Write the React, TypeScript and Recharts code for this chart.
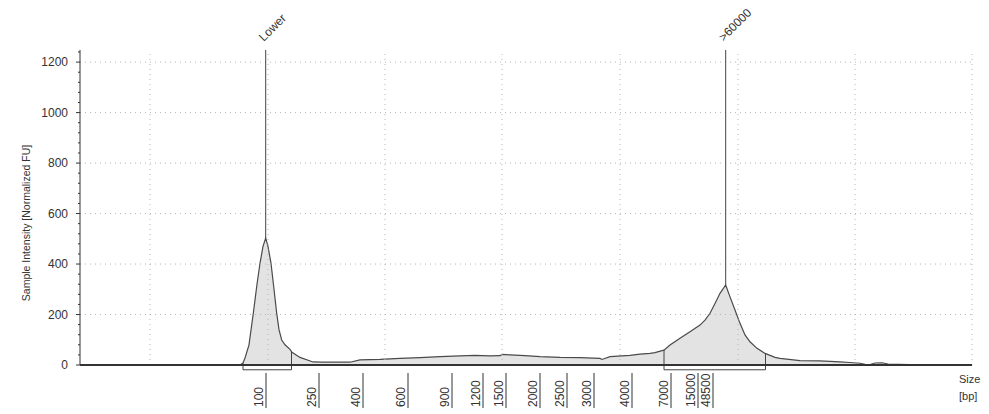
import { Area, ComposedChart, ReferenceDot, ReferenceLine, XAxis, YAxis } from "recharts"

// migration position (px from the left of the plot) and normalized FU
const tracePos = [
  0, 160, 163, 165, 169, 173.3, 177, 180, 183, 185.7, 188, 191, 194, 196.7, 199, 201.7, 205, 210, 212, 220, 233, 243,
  270, 280, 300, 320, 340, 360, 380, 395, 410, 420, 422, 430, 445, 460, 480, 500, 520, 522, 530, 550, 560, 570, 575,
  582, 584, 590, 600, 610, 620, 625, 630, 635, 640, 645.7, 650, 655, 660, 665, 670, 677, 685, 695, 700, 720, 740, 760,
  770, 780, 785, 790, 795, 802, 808, 830, 835, 892,
]
const traceFu = [
  0, 0, 8, 28, 80, 205, 320, 403, 470, 503, 470, 403, 300, 205, 140, 99, 80, 62, 50, 30, 12, 11,
  11, 20, 22, 26, 29, 33, 36, 38, 36, 37, 42, 40, 37, 33, 30, 29, 26, 22, 33, 38, 43, 46, 49,
  57, 59, 79, 106, 132, 158, 178, 205, 244, 284, 317, 270, 218, 165, 119, 92, 66, 46, 30, 26, 17, 16, 12,
  10, 7, 3, 2, 8, 9, 4, 2, 0, 0,
]

const sizeLabels = ["100", "250", "400", "600", "900", "1200", "1500", "2000", "2500", "3000", "4000", "7000", "15000", "48500"]
const sizePos = [186, 239, 283, 328, 372, 403, 426, 460, 487, 514, 552, 591, 618, 633]

const yMajor = [0, 200, 400, 600, 800, 1000, 1200]
const yMinor = [
  0, 40, 80, 120, 160, 200, 240, 280, 320, 360, 400, 440, 480, 520, 560, 600, 640, 680, 720, 760, 800, 840, 880, 920,
  960, 1000, 1040, 1080, 1120, 1160, 1200, 1240,
]
const gridX = [70, 188, 305, 422, 540, 658, 775, 892]
const gridY = [200, 400, 600, 800, 1000, 1200]

const peakNames = ["Lower", ">60000"]
const peakPos = [185.7, 645.7]
const peakFu = [503, 317]

const regionStart = [163, 584]
const regionEnd = [211.5, 685.5]

const Y_MAX = 1248
const BRACKET_LOW = -19
const FONT = "'Liberation Sans', Arial, sans-serif"

const data = tracePos.map((p, i) => ({ pos: p, fu: traceFu[i] }))

function fuAt(p: number) {
  for (let i = 1; i < tracePos.length; i++) {
    if (p <= tracePos[i]) {
      const t = (p - tracePos[i - 1]) / (tracePos[i] - tracePos[i - 1])
      return traceFu[i - 1] + t * (traceFu[i] - traceFu[i - 1])
    }
  }
  return 0
}

function SizeTick(props: any) {
  const { x, y, payload } = props
  const idx = sizePos.indexOf(payload.value)
  return (
    <g>
      <line x1={x} x2={x} y1={y + 8} y2={y + 43} stroke="#333" />
      <text
        x={x - 3}
        y={y + 42}
        transform={`rotate(-90 ${x - 3} ${y + 42})`}
        textAnchor="start"
        fontSize={12}
        fontFamily={FONT}
        fill="#333"
      >
        {sizeLabels[idx]}
      </text>
    </g>
  )
}

function FuTick(props: any) {
  const { x, y, payload } = props
  const major = yMajor.includes(payload.value)
  return (
    <g>
      <line x1={x - (major ? 4 : 2)} x2={x} y1={y} y2={y} stroke="#333" />
      {major && (
        <text x={x - 12} y={y + 4} textAnchor="end" fontSize={12} fontFamily={FONT} fill="#333">
          {payload.value}
        </text>
      )}
    </g>
  )
}

export default function App() {
  return (
    <div style={{ position: "absolute", left: 0, top: 0, background: "#fff" }}>
      <ComposedChart width={989} height={414} data={data} margin={{ top: 50, right: 17, bottom: 0, left: 0 }}>
        <XAxis
          dataKey="pos"
          type="number"
          domain={[0, 892]}
          ticks={sizePos}
          interval={0}
          height={49}
          tickSize={0}
          tickMargin={0}
          tick={<SizeTick />}
          axisLine={{ stroke: "#333", strokeWidth: 2 }}
          label={{
            content: (p: any) => {
              const vb = p.viewBox
              const tx = vb.x + vb.width - 13
              return (
                <text fontSize={11} fontFamily={FONT} fill="#333">
                  <tspan x={tx} y={vb.y + 18}>Size</tspan>
                  <tspan x={tx} y={vb.y + 35}>[bp]</tspan>
                </text>
              )
            },
          }}
        />
        <YAxis
          type="number"
          domain={[0, Y_MAX]}
          ticks={yMinor}
          interval={0}
          width={80}
          tickSize={0}
          tickMargin={0}
          tick={<FuTick />}
          axisLine={{ stroke: "#333" }}
          label={{
            content: () => (
              <text
                x={30}
                y={223}
                transform="rotate(-90 30 223)"
                textAnchor="middle"
                fontSize={10.5}
                fontFamily={FONT}
                fill="#333"
              >
                Sample Intensity [Normalized FU]
              </text>
            ),
          }}
        />
        <Area
          type="linear"
          dataKey="fu"
          baseValue={0}
          fill="#e3e3e3"
          fillOpacity={1}
          stroke="#4a4a4a"
          strokeWidth={1.2}
          isAnimationActive={false}
          dot={false}
          activeDot={false}
        />
        {gridY.map((v) => (
          <ReferenceLine key={`gy${v}`} y={v} stroke="#b5b5b5" strokeDasharray="1 4" />
        ))}
        {gridX.map((v) => (
          <ReferenceLine key={`gx${v}`} x={v} stroke="#b5b5b5" strokeDasharray="1 4" />
        ))}
        {regionStart.map((s, i) => {
          const e = regionEnd[i]
          return [
            <ReferenceLine
              key={`rl${i}`}
              segment={[{ x: s, y: fuAt(s) }, { x: s, y: BRACKET_LOW }]}
              stroke="#444"
              ifOverflow="visible"
            />,
            <ReferenceLine
              key={`rb${i}`}
              segment={[{ x: s, y: BRACKET_LOW }, { x: e, y: BRACKET_LOW }]}
              stroke="#444"
              ifOverflow="visible"
            />,
            <ReferenceLine
              key={`rr${i}`}
              segment={[{ x: e, y: fuAt(e) }, { x: e, y: BRACKET_LOW }]}
              stroke="#444"
              ifOverflow="visible"
            />,
          ]
        })}
        {peakPos.map((p, i) => (
          <ReferenceLine
            key={`pk${i}`}
            segment={[{ x: p, y: peakFu[i] }, { x: p, y: Y_MAX }]}
            stroke="#444"
            ifOverflow="visible"
          />
        ))}
        {peakPos.map((p, i) => (
          <ReferenceDot
            key={`pl${i}`}
            x={p}
            y={Y_MAX}
            ifOverflow="visible"
            shape={(sp: any) => (
              <text
                x={sp.cx - 2}
                y={sp.cy - 8}
                transform={`rotate(-45 ${sp.cx - 2} ${sp.cy - 8})`}
                fontSize={12}
                fontFamily={FONT}
                fill="#333"
              >
                {peakNames[i]}
              </text>
            )}
          />
        ))}
      </ComposedChart>
    </div>
  )
}
